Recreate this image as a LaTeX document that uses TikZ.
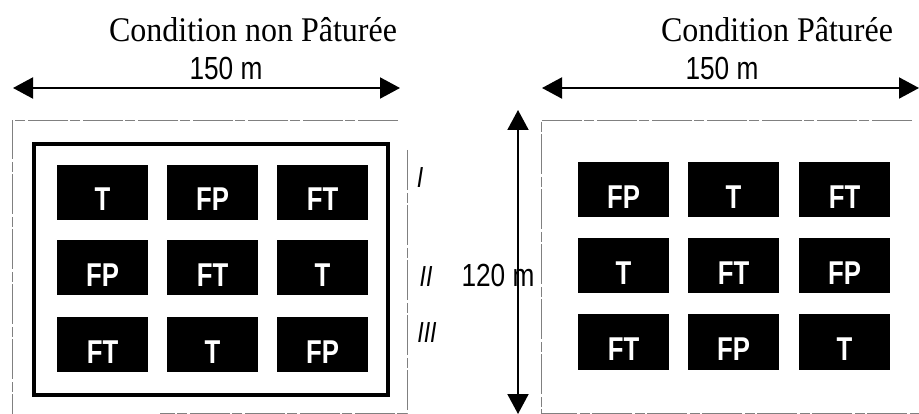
\documentclass[tikz,border=0pt]{standalone}
\usepackage{fontspec}
\setmainfont{Liberation Serif}
\newfontfamily\arialf{Liberation Sans}
\usetikzlibrary{arrows.meta}
\begin{document}
\begin{tikzpicture}[x=1pt,y=-1pt,
  cell/.style={fill=black, minimum width=91pt, minimum height=55pt, inner sep=0pt,
    text=white, font=\fontsize{33}{33}\selectfont\arialf\bfseries,
    text height=37pt, text depth=0pt},
  dimarrow/.style={line width=2pt,
    {Triangle[length=20pt,width=21pt]}-{Triangle[length=20pt,width=21pt]}},
  fence/.style={gray, line width=0.6pt, dash pattern=on 40pt off 3pt on 10pt off 2pt},
  title/.style={anchor=base, font=\fontsize{32}{32}\selectfont},
  dim/.style={anchor=base, font=\fontsize{32}{32}\selectfont\arialf},
  block/.style={anchor=base, font=\fontsize{29}{29}\selectfont\arialf\itshape}]
\useasboundingbox (0,0) rectangle (919,414);

% titles
\node[title] (tL) at (253,42) {\scalebox{1}[1.08]{Condition non Pâturée}};
\node[title] (tR) at (777,42) {\scalebox{1}[1.08]{Condition Pâturée}};
\node[dim] (dL) at (226,80) {\scalebox{0.82}[1]{150 m}};
\node[dim] (dR) at (722,80) {\scalebox{0.82}[1]{150 m}};

% dimension arrows
\coordinate (aL1) at (13,88);
\coordinate (aL2) at (400,88);
\coordinate (aR1) at (542,88);
\coordinate (aR2) at (919,88);
\coordinate (aV1) at (518,110);
\coordinate (aV2) at (518,414);
\draw[dimarrow] (aL1) -- (aL2);
\draw[dimarrow] (aR1) -- (aR2);
\draw[dimarrow] (aV1) -- (aV2);
\node[dim] (dV) at (498,287) {\scalebox{0.82}[1]{120 m}};

% plot outlines
\draw[fence] (398,120) -- (12,120) -- (12,414);
\draw[fence] (407,150) -- (407,413) -- (160,413);
\draw[fence] (912,120) -- (541,120) -- (541,413) -- (919,413);
\draw[line width=3.5pt] (34,144) rectangle (388,395);

% block labels
\node[block] (b1) at (420,188) {\scalebox{0.8}[1]{I}};
\node[block] (b2) at (426,287) {\scalebox{0.8}[1]{II}};
\node[block] (b3) at (427,342) {\scalebox{0.8}[1]{III}};

% left field
\node[cell] (L11) at (102.5,192.5) {\scalebox{0.78}[1]{T}};
\node[cell] (L12) at (212.5,192.5) {\scalebox{0.78}[1]{FP}};
\node[cell] (L13) at (322.5,192.5) {\scalebox{0.78}[1]{FT}};
\node[cell] (L21) at (102.5,268) {\scalebox{0.78}[1]{FP}};
\node[cell] (L22) at (212.5,268) {\scalebox{0.78}[1]{FT}};
\node[cell] (L23) at (322.5,268) {\scalebox{0.78}[1]{T}};
\node[cell] (L31) at (102.5,344.5) {\scalebox{0.78}[1]{FT}};
\node[cell] (L32) at (212.5,344.5) {\scalebox{0.78}[1]{T}};
\node[cell] (L33) at (322.5,344.5) {\scalebox{0.78}[1]{FP}};

% right field
\node[cell] (R11) at (623.5,190) {\scalebox{0.78}[1]{FP}};
\node[cell] (R12) at (733.5,190) {\scalebox{0.78}[1]{T}};
\node[cell] (R13) at (844.5,190) {\scalebox{0.78}[1]{FT}};
\node[cell] (R21) at (623.5,266) {\scalebox{0.78}[1]{T}};
\node[cell] (R22) at (733.5,266) {\scalebox{0.78}[1]{FT}};
\node[cell] (R23) at (844.5,266) {\scalebox{0.78}[1]{FP}};
\node[cell] (R31) at (623.5,342) {\scalebox{0.78}[1]{FT}};
\node[cell] (R32) at (733.5,342) {\scalebox{0.78}[1]{FP}};
\node[cell] (R33) at (844.5,342) {\scalebox{0.78}[1]{T}};
\end{tikzpicture}
\end{document}
